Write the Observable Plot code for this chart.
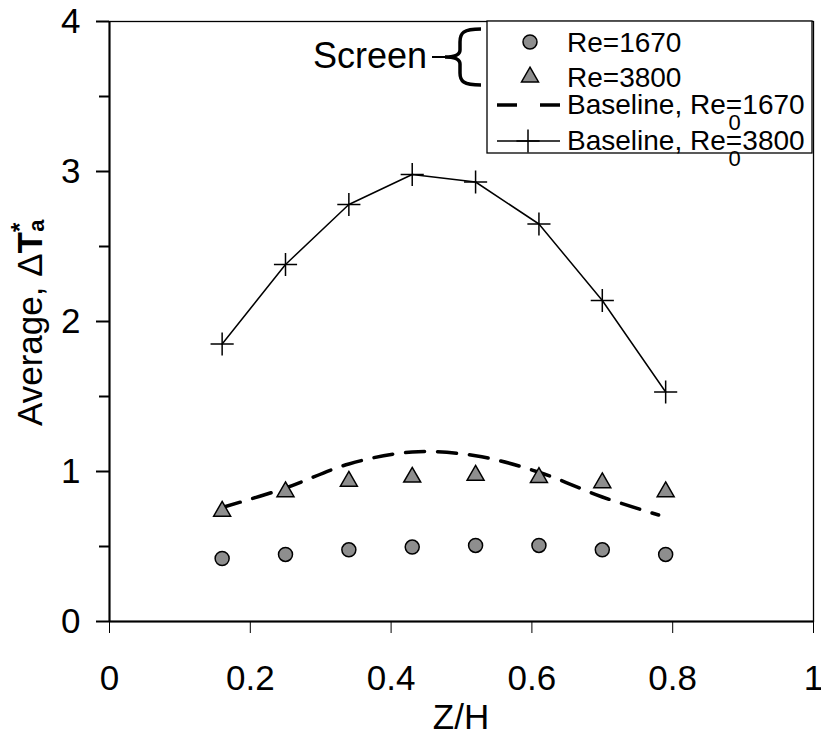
<!DOCTYPE html>
<html>
<head>
<meta charset="utf-8">
<script src="https://cdn.jsdelivr.net/npm/d3@7"></script>
<script src="https://cdn.jsdelivr.net/npm/@observablehq/plot@0.6"></script>
<style>
  html, body { margin: 0; padding: 0; background: white; }
  #chart svg { display: block; }
</style>
</head>
<body>
<div id="chart"></div>
<script>
// Z/H positions
const zh = [0.16, 0.25, 0.34, 0.43, 0.52, 0.61, 0.70, 0.79];
// Screen, Re=1670 (circles)
const screen1670 = [0.42, 0.447, 0.478, 0.496, 0.507, 0.507, 0.478, 0.447];
// Screen, Re=3800 (triangles)
const screen3800 = [0.735, 0.865, 0.935, 0.962, 0.975, 0.96, 0.925, 0.865];
// Baseline, Re0=1670 (dashed line)
const base1670X = [0.16, 0.25, 0.34, 0.43, 0.52, 0.61, 0.70, 0.78];
const base1670 = [0.76, 0.89, 1.05, 1.13, 1.105, 0.995, 0.83, 0.71];
// Baseline, Re0=3800 (line with plus markers)
const base3800 = [1.85, 2.38, 2.78, 2.98, 2.93, 2.65, 2.14, 1.53];

const xTicks = [0, 0.2, 0.4, 0.6, 0.8, 1];
const yMajor = [0, 1, 2, 3, 4];
const yMinor = [0.5, 1.5, 2.5, 3.5];

const legendLabels = ["Re=1670", "Re=3800", "Baseline, Re", "Baseline, Re"];
const legendValues = ["", "", "1670", "3800"];

const gray = "#8e8e8e";
const font = "'Liberation Sans', Arial, sans-serif";
const plusR = 7.5;

const d1670 = zh.map((x, i) => ({x, y: screen1670[i]}));
const d3800 = zh.map((x, i) => ({x, y: screen3800[i]}));
const b1670 = base1670X.map((x, i) => ({x, y: base1670[i]}));
const b3800 = zh.map((x, i) => ({x, y: base3800[i]}));

const plot = Plot.plot({
  width: 821,
  height: 736,
  marginLeft: 109,
  marginRight: 8,
  marginTop: 21,
  marginBottom: 115,
  style: {fontFamily: font, background: "white", color: "black", overflow: "visible"},
  x: {domain: [0, 1]},
  y: {domain: [0, 4]},
  marks: [
    Plot.frame({stroke: "black", strokeWidth: 1.3}),
    Plot.axisX({ticks: xTicks, tickSize: 12, tickPadding: 32, fontSize: 35, label: null,
      tickFormat: d => String(d), strokeWidth: 1}),
    Plot.axisY({ticks: yMajor, tickSize: 13, tickPadding: 16, fontSize: 35, label: null,
      tickFormat: d => String(d), strokeWidth: 2}),
    Plot.axisY({ticks: yMinor, tickSize: 10, text: null, label: null, strokeWidth: 2}),
    Plot.ruleX([0], {stroke: "black", strokeWidth: 2}),
    Plot.ruleY([0], {stroke: "black", strokeWidth: 2}),
    Plot.line(b3800, {x: "x", y: "y", stroke: "black", strokeWidth: 1.5}),
    Plot.dot(b3800, {x: "x", y: "y", symbol: "plus", r: plusR, stroke: "black", strokeWidth: 1.5}),
    Plot.line(b1670, {x: "x", y: "y", stroke: "black", strokeWidth: 3.5, strokeDasharray: "19,13", curve: "catmull-rom"}),
    Plot.dot(d3800, {x: "x", y: "y", symbol: "triangle", r: 6.3, fill: gray, stroke: "black", strokeWidth: 1.5}),
    Plot.dot(d1670, {x: "x", y: "y", symbol: "circle", r: 7, fill: gray, stroke: "black", strokeWidth: 1.5})
  ]
});

document.getElementById("chart").appendChild(plot);

const svg = d3.select(plot);

// X axis label
svg.append("text")
  .attr("x", 461).attr("y", 729)
  .attr("text-anchor", "middle")
  .attr("font-family", font).attr("font-size", 35).attr("fill", "black")
  .text("Z/H");

// Y axis label
const yl = svg.append("text")
  .attr("transform", "translate(42,426) rotate(-90)")
  .attr("text-anchor", "start")
  .attr("font-family", font).attr("font-size", 35).attr("fill", "black");
yl.append("tspan").text("Average, Δ");
yl.append("tspan").attr("font-weight", "bold").text("T");
yl.append("tspan").attr("font-weight", "bold").attr("font-size", 24).attr("dy", -14).text("*");
yl.append("tspan").attr("font-weight", "bold").attr("font-size", 22).attr("dx", -9).attr("dy", 16).text("a");

// Legend
const lg = svg.append("g").attr("font-family", font).attr("font-size", 28).attr("fill", "black")
  .attr("text-anchor", "start");
lg.append("rect").attr("x", 487).attr("y", 21).attr("width", 325).attr("height", 132)
  .attr("fill", "white").attr("stroke", "black").attr("stroke-width", 1.3);
lg.append("path").attr("d", d3.symbol(d3.symbolCircle, Math.PI * 49)())
  .attr("transform", "translate(530,42)").attr("fill", gray).attr("stroke", "black").attr("stroke-width", 1.5);
lg.append("path").attr("d", d3.symbol(d3.symbolTriangle, Math.PI * 6.3 * 6.3)())
  .attr("transform", "translate(530,77)").attr("fill", gray).attr("stroke", "black").attr("stroke-width", 1.5);
lg.append("line").attr("x1", 497).attr("x2", 560).attr("y1", 105).attr("y2", 105)
  .attr("stroke", "black").attr("stroke-width", 3.5).attr("stroke-dasharray", "20,23");
lg.append("line").attr("x1", 497).attr("x2", 560).attr("y1", 141).attr("y2", 141)
  .attr("stroke", "black").attr("stroke-width", 1.5);
lg.append("path").attr("d", d3.symbol(d3.symbolPlus, Math.PI * plusR * plusR)())
  .attr("transform", "translate(528,141)").attr("fill", "none").attr("stroke", "black").attr("stroke-width", 1.5);

const baselines = [52, 87, 114, 150];
legendLabels.forEach((lab, i) => {
  const t = lg.append("text").attr("x", 567).attr("y", baselines[i]).attr("text-anchor", "start");
  if (legendValues[i]) {
    t.append("tspan").text(lab + "=");
    t.append("tspan").attr("font-size", 22).attr("dx", -13.5).attr("dy", 16).text("0");
    t.append("tspan").attr("dx", 1.5).attr("dy", -16).text(legendValues[i]);
  } else {
    t.text(lab);
  }
});

// "Screen" annotation with brace
svg.append("text").attr("x", 313).attr("y", 68).attr("text-anchor", "start")
  .attr("font-family", font).attr("font-size", 36).attr("fill", "black").text("Screen");
svg.append("path").attr("d", "M432,57 L446,57").attr("stroke", "black").attr("stroke-width", 2).attr("fill", "none");
svg.append("path")
  .attr("d", "M481,29 C463,29 460,33 460,42 L460,50 C460,55 455,57 445,57 C455,57 460,59 460,64 L460,73 C460,81 463,85 481,85")
  .attr("stroke", "black").attr("stroke-width", 3.5).attr("fill", "none");
</script>
</body>
</html>
